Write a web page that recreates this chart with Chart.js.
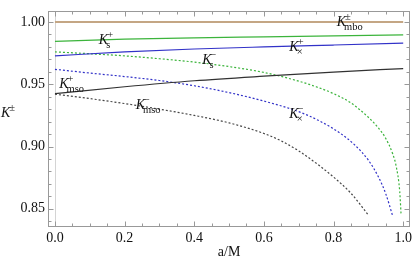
<!DOCTYPE html>
<html>
<head>
<meta charset="utf-8">
<script src="https://cdn.jsdelivr.net/npm/chart.js@4.4.0/dist/chart.umd.min.js"></script>
<style>
  html, body { margin: 0; padding: 0; background: #fff; }
</style>
</head>
<body>
<canvas id="myChart" width="415" height="267"></canvas>
<script>
// solid curves share one grid of a/M
const aSolid = [0, 0.2, 0.4, 0.6, 0.8, 1.0];
const kMbo = [1, 1, 1, 1, 1, 1];
const kSPlus = [0.9845, 0.9862, 0.9873, 0.9881, 0.9889, 0.9897];
const kXPlus = [0.9728, 0.9760, 0.9783, 0.9800, 0.9815, 0.9830];
const kMsoPlus = [0.9425, 0.9480, 0.9528, 0.9565, 0.9598, 0.9626];

// dashed curves end at different a/M
const aSMinus = [0, 0.1, 0.2, 0.3, 0.4, 0.5, 0.6, 0.7, 0.75, 0.8, 0.85, 0.9, 0.93, 0.95, 0.97, 0.98, 0.99, 0.994];
const kSMinus = [0.976, 0.9745, 0.9728, 0.9705, 0.9678, 0.9642, 0.9595, 0.9525, 0.948, 0.9425, 0.935, 0.9235, 0.9145, 0.9065, 0.894, 0.884, 0.864, 0.845];
const aXMinus = [0, 0.1, 0.2, 0.3, 0.4, 0.5, 0.6, 0.7, 0.76, 0.82, 0.86, 0.9, 0.93, 0.95, 0.969];
const kXMinus = [0.962, 0.959, 0.9562, 0.953, 0.9488, 0.9433, 0.9365, 0.928, 0.9205, 0.9105, 0.9015, 0.889, 0.875, 0.862, 0.845];
const aMsoMinus = [0, 0.1, 0.2, 0.3, 0.4, 0.5, 0.6, 0.65, 0.7, 0.76, 0.8, 0.85, 0.9];
const kMsoMinus = [0.942, 0.9385, 0.9345, 0.930, 0.925, 0.919, 0.9105, 0.9045, 0.8965, 0.8845, 0.8755, 0.8625, 0.845];

const xTicks = [0, 0.2, 0.4, 0.6, 0.8, 1.0];
const yTicks = [0.85, 0.90, 0.95, 1.00];

function pts(xs, ys) {
  return xs.map((v, i) => ({ x: v, y: ys[i] }));
}

const green = 'rgb(60,180,60)';
const blue = 'rgb(50,50,200)';
const black = 'rgb(50,50,50)';

function line(data, color, dash, width) {
  return {
    data: data,
    borderColor: color,
    borderWidth: width || 1.2,
    borderDash: dash || [],
    showLine: true,
    pointRadius: 0,
    cubicInterpolationMode: 'monotone',
    fill: false
  };
}

// curve labels: [a/M, K] of the K's left baseline, superscript, subscript
const curveLabels = [
  [0.809, 0.9969, '\u00b1', 'mbo'],
  [0.126, 0.9827, '+', 's'],
  [0.673, 0.9769, '+', '\u00d7'],
  [0.423, 0.9665, '\u2212', 's'],
  [0.012, 0.9473, '+', 'mso'],
  [0.232, 0.9305, '\u2212', 'mso'],
  [0.673, 0.9231, '\u2212', '\u00d7']
];

const serif = '"Liberation Serif", "DejaVu Serif", serif';

function drawK(ctx, x, y, sup, sub) {
  ctx.font = 'italic 14px ' + serif;
  ctx.fillText('K', x, y);
  const w = ctx.measureText('K').width;
  ctx.font = '10.5px ' + serif;
  if (sup) ctx.fillText(sup, x + w - 1, y - 6);
  if (sub) ctx.fillText(sub, x + w - 2, y + 4);
}

const framePlugin = {
  id: 'frame',
  beforeDatasetsDraw(chart) {
    const { ctx, chartArea: c, scales: { x } } = chart;
    ctx.save();
    ctx.strokeStyle = '#d4d4d4';
    ctx.lineWidth = 1;
    const x0 = Math.round(x.getPixelForValue(0)) + 0.5;
    ctx.beginPath();
    ctx.moveTo(x0, c.top);
    ctx.lineTo(x0, c.bottom);
    ctx.stroke();
    ctx.restore();
  },
  afterDraw(chart) {
    const { ctx, chartArea: c, scales: { x, y } } = chart;
    ctx.save();
    ctx.strokeStyle = '#999';
    ctx.lineWidth = 1;
    const L = Math.round(c.left) + 0.5, R = Math.round(c.right) - 0.5;
    const T = Math.round(c.top) + 0.5, B = Math.round(c.bottom) - 0.5;
    ctx.strokeRect(L, T, R - L, B - T);
    ctx.beginPath();
    for (let i = 0; i <= 20; i++) {
      const px = Math.round(x.getPixelForValue(i * 0.05)) + 0.5;
      const len = i % 4 === 0 ? 5 : 3;
      ctx.moveTo(px, B); ctx.lineTo(px, B - len);
      ctx.moveTo(px, T); ctx.lineTo(px, T + len);
    }
    for (let i = 84; i <= 100; i++) {
      const py = Math.round(y.getPixelForValue(i / 100)) + 0.5;
      const len = i % 5 === 0 ? 5 : 3;
      ctx.moveTo(L, py); ctx.lineTo(L + len, py);
      ctx.moveTo(R, py); ctx.lineTo(R - len, py);
    }
    ctx.stroke();

    ctx.fillStyle = '#111';
    ctx.textAlign = 'left';
    ctx.textBaseline = 'alphabetic';
    curveLabels.forEach(l => {
      drawK(ctx, x.getPixelForValue(l[0]), y.getPixelForValue(l[1]), l[2], l[3]);
    });
    // y axis title
    drawK(ctx, 1, 117, '\u00b1', '');
    ctx.restore();
  }
};

const config = {
  type: 'scatter',
  data: {
    datasets: [
      line(pts(aSolid, kMbo), 'rgb(196,166,132)', [], 2),
      line(pts(aSolid, kSPlus), green),
      line(pts(aSolid, kXPlus), blue),
      line(pts(aSolid, kMsoPlus), black),
      line(pts(aSMinus, kSMinus), green, [2, 2]),
      line(pts(aXMinus, kXMinus), blue, [2, 2]),
      line(pts(aMsoMinus, kMsoMinus), 'rgb(70,70,70)', [2, 2])
    ]
  },
  options: {
    responsive: false,
    devicePixelRatio: 1,
    animation: false,
    layout: { padding: { top: 2, right: 3, left: 0, bottom: 0 } },
    plugins: { legend: { display: false }, tooltip: { enabled: false } },
    scales: {
      x: {
        type: 'linear',
        min: -0.02,
        max: 1.02,
        grid: { display: false, drawTicks: false },
        border: { display: false },
        afterFit(s) { s.height = 40; },
        afterBuildTicks(s) { s.ticks = xTicks.map(v => ({ value: v })); },
        ticks: {
          padding: 3,
          color: '#111',
          font: { family: serif, size: 14 },
          maxRotation: 0,
          callback: v => v.toFixed(1)
        },
        title: {
          display: true,
          text: 'a/M',
          color: '#111',
          font: { family: serif, size: 14 },
          padding: { top: 0, bottom: 6 }
        }
      },
      y: {
        type: 'linear',
        min: 0.8354,
        max: 1.0085,
        grid: { display: false, drawTicks: false },
        border: { display: false },
        afterFit(s) { s.width = 48; },
        afterBuildTicks(s) { s.ticks = yTicks.map(v => ({ value: v })); },
        ticks: {
          padding: 3,
          color: '#111',
          font: { family: serif, size: 14 },
          callback: v => v.toFixed(2)
        }
      }
    }
  },
  plugins: [framePlugin]
};

const myChart = new Chart(document.getElementById('myChart'), config);
</script>
</body>
</html>
